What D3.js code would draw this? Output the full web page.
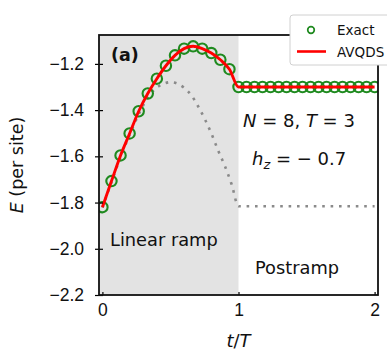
<!DOCTYPE html>
<html><head><meta charset="utf-8">
<script src="https://cdn.jsdelivr.net/npm/d3@7"></script>
<style>
body{margin:0;background:#fff;}
svg{display:block;font-family:"DejaVu Sans",sans-serif;}
</style></head>
<body>
<svg id="c" width="387" height="350"></svg>
<script>
// ---- data ----
const rampT = [0,1/15,2/15,3/15,4/15,5/15,6/15,7/15,8/15,9/15,10/15,11/15,12/15,13/15,14/15,1];
const rampE = [-1.820,-1.707,-1.596,-1.501,-1.405,-1.328,-1.264,-1.208,-1.163,-1.134,-1.124,-1.134,-1.153,-1.182,-1.223,-1.300];
const postT = [1.0588,1.1176,1.1765,1.2353,1.2941,1.3529,1.4118,1.4706,1.5294,1.5882,1.6471,1.7059,1.7647,1.8235,1.8824,1.9412,2.0];
const postE = [-1.300,-1.300,-1.300,-1.300,-1.300,-1.300,-1.300,-1.300,-1.300,-1.300,-1.300,-1.300,-1.300,-1.300,-1.300,-1.300,-1.300];
const exactT = rampT.concat(postT);
const exactE = rampE.concat(postE);
const avqdsT = exactT.slice();
const avqdsE = exactE.slice();
const groundT = [0,0.0667,0.1333,0.2,0.2667,0.3333,0.4,0.45,0.5,0.55,0.6,0.65,0.7,0.75,0.8,0.85,0.9,0.95,1.0,2.0];
const groundE = [-1.822,-1.712,-1.602,-1.507,-1.418,-1.345,-1.302,-1.286,-1.279,-1.285,-1.303,-1.333,-1.380,-1.436,-1.500,-1.574,-1.642,-1.722,-1.816,-1.816];
const xTicks = [0,1,2];
const yTicks = [-2.2,-2.0,-1.8,-1.6,-1.4,-1.2];
const legendLabels = ["Exact","AVQDS"];

// ---- layout ----
const svg = d3.select("#c");
const L = 99, R = 378, T = 35, B = 295;
const x = d3.scaleLinear().domain([-0.025, 2.025]).range([L, R]);
const y = d3.scaleLinear().domain([-2.2, -1.075]).range([B, T]);
const fmt = v => (v < 0 ? "\u2212" : "") + Math.abs(v).toFixed(1);

// shaded ramp region
svg.append("rect").attr("x", L).attr("y", T).attr("width", x(1) - L).attr("height", B - T).attr("fill", "#e3e3e3");

const clip = svg.append("clipPath").attr("id","cp").append("rect").attr("x",L).attr("y",T).attr("width",R-L).attr("height",B-T);
const g = svg.append("g").attr("clip-path","url(#cp)");

// ground-state dotted line
const lineG = d3.line().x((d,i)=>x(groundT[i])).y(d=>y(d)).curve(d3.curveMonotoneX);
g.append("path").attr("d", lineG(groundE)).attr("fill","none").attr("stroke","#8a8a8a")
  .attr("stroke-width",2.6).attr("stroke-dasharray","2.6,5.8");

// exact markers
g.selectAll("circle.ex").data(exactE).enter().append("circle")
  .attr("cx",(d,i)=>x(exactT[i])).attr("cy",d=>y(d)).attr("r",5.2)
  .attr("fill","none").attr("stroke","#1f8a1f").attr("stroke-width",2.1);

// AVQDS line
const lineA = d3.line().x((d,i)=>x(avqdsT[i])).y(d=>y(d)).curve(d3.curveMonotoneX);
g.append("path").attr("d", lineA(avqdsE)).attr("fill","none").attr("stroke","#ff0000").attr("stroke-width",2.9);

// axes
const xAxis = d3.axisBottom(x).tickValues(xTicks).tickSize(-3).tickPadding(8).tickFormat(d3.format("d"));
const gx = svg.append("g").attr("transform",`translate(0,${B})`).call(xAxis);
gx.select(".domain").remove();
gx.selectAll(".tick line").attr("stroke","#000").attr("stroke-width",1.2);
gx.selectAll("text").attr("font-size",17.5).attr("fill","#111").attr("dy","0.72em");

const yAxis = d3.axisLeft(y).tickValues(yTicks).tickSize(4).tickPadding(11).tickFormat(fmt);
const gy = svg.append("g").attr("transform",`translate(${L},0)`).call(yAxis);
gy.select(".domain").remove();
gy.selectAll(".tick line").attr("stroke","#000").attr("stroke-width",1.2).attr("x2",-4).attr("x1",4);
gy.selectAll("text").attr("font-size",17.5).attr("fill","#111");

// frame
svg.append("rect").attr("x",L).attr("y",T).attr("width",R-L).attr("height",B-T)
  .attr("fill","none").attr("stroke","#111").attr("stroke-width",1.8);

// axis labels
const xl = svg.append("text").attr("x", x(1)).attr("y", 347).attr("text-anchor","middle").attr("font-size",18).attr("fill","#111");
xl.append("tspan").attr("font-style","italic").text("t");
xl.append("tspan").text("/");
xl.append("tspan").attr("font-style","italic").text("T");

const yl = svg.append("text").attr("transform","translate(23,165) rotate(-90)").attr("text-anchor","middle").attr("font-size",17.5).attr("fill","#111");
yl.append("tspan").attr("font-style","italic").text("E");
yl.append("tspan").text(" (per site)");

// annotations
svg.append("text").attr("x",111).attr("y",61).attr("font-size",17.5).attr("font-weight","bold").attr("fill","#111").text("(a)");
svg.append("text").attr("x",110).attr("y",246).attr("font-size",17.8).attr("fill","#111").text("Linear ramp");
svg.append("text").attr("x",255).attr("y",274).attr("font-size",17.8).attr("fill","#111").text("Postramp");

const t1 = svg.append("text").attr("x",243).attr("y",127).attr("font-size",18).attr("fill","#111");
t1.append("tspan").attr("font-style","italic").text("N");
t1.append("tspan").text(" = 8, ");
t1.append("tspan").attr("font-style","italic").text("T");
t1.append("tspan").text(" = 3");

const t2 = svg.append("text").attr("x",252).attr("y",165).attr("font-size",18).attr("fill","#111");
t2.append("tspan").attr("font-style","italic").text("h");
t2.append("tspan").attr("font-style","italic").attr("font-size",13).attr("dy",4).text("z");
t2.append("tspan").attr("dy",-4).text(" =  \u2212 0.7");

// legend
const lg = svg.append("g");
lg.append("rect").attr("x",290).attr("y",15).attr("width",105).attr("height",50).attr("rx",3)
  .attr("fill","#fff").attr("stroke","#d0d0d0").attr("stroke-width",1);
lg.append("circle").attr("cx",311).attr("cy",30).attr("r",3.3).attr("fill","none").attr("stroke","#1f8a1f").attr("stroke-width",1.7);
lg.append("line").attr("x1",297).attr("x2",326).attr("y1",51.5).attr("y2",51.5).attr("stroke","#ff0000").attr("stroke-width",2.6);
lg.selectAll("text.lt").data(legendLabels).enter().append("text")
  .attr("x",337).attr("y",(d,i)=>[35,56.5][i]).attr("font-size",13.5).attr("fill","#111").text(d=>d);
</script>
</body></html>
